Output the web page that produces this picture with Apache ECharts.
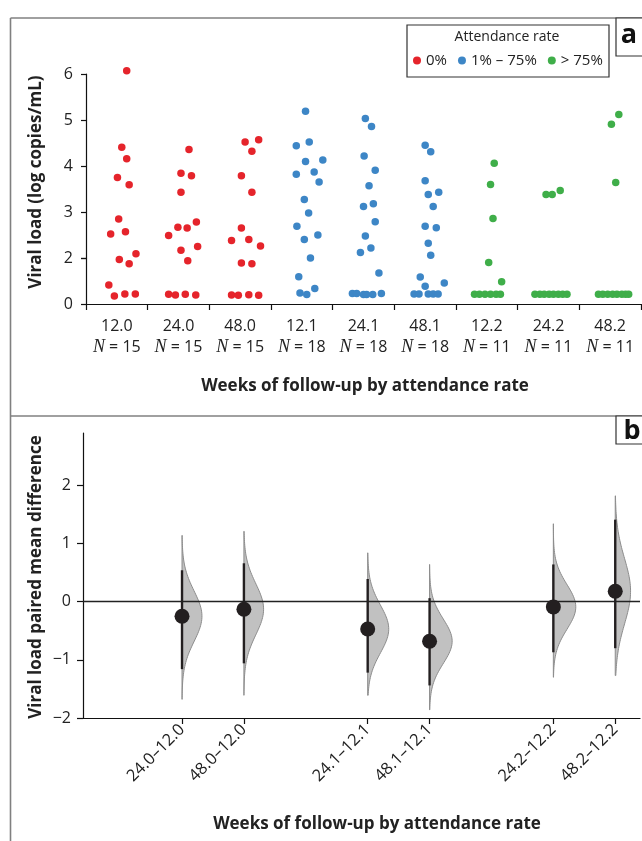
<!DOCTYPE html>
<html><head><meta charset="utf-8">
<script src="https://cdn.jsdelivr.net/npm/echarts@6/dist/echarts.min.js"></script>
<style>html,body{margin:0;padding:0;background:#fff}#c{width:642px;height:841px}</style>
</head><body><div id="c"></div>
<script>
// ---------- DATA ----------
const categories = ['12.0','24.0','48.0','12.1','24.1','48.1','12.2','24.2','48.2'];
const sampleSizes = [15,15,15,18,18,18,11,11,11];
const groupNames = ['0%','1% \u2013 75%','> 75%'];
const groupOfCategory = [0,0,0,1,1,1,2,2,2];

// viral load (log copies/mL) per category, with strip-plot jitter (category units)
const vl_12_0 = [6.07,4.41,4.16,3.75,3.59,2.85,2.52,2.57,2.09,1.93,1.75,0.83,0.35,0.43,0.43];
const jit_12_0 = [0.16,0.08,0.16,0.01,0.20,0.03,-0.10,0.14,0.31,0.04,0.20,-0.13,-0.04,0.13,0.30];
const vl_24_0 = [4.36,3.84,3.79,3.43,2.67,2.65,2.78,2.49,2.25,2.17,1.88,0.42,0.39,0.42,0.39];
const jit_24_0 = [0.17,0.04,0.21,0.04,-0.01,0.14,0.29,-0.16,0.31,0.04,0.15,-0.16,-0.05,0.11,0.28];
const vl_48_0 = [4.52,4.57,4.32,3.79,3.43,2.65,2.38,2.40,2.26,1.78,1.75,0.39,0.38,0.40,0.38];
const jit_48_0 = [0.08,0.30,0.19,0.02,0.19,0.02,-0.14,0.14,0.33,0.02,0.19,-0.14,-0.03,0.14,0.30];
const vl_12_1 = [5.19,4.44,4.52,4.10,4.13,3.82,3.87,3.65,3.27,2.98,2.69,2.50,2.40,2.00,1.19,0.67,0.48,0.41];
const jit_12_1 = [0.06,-0.09,0.12,0.06,0.34,-0.09,0.20,0.28,0.04,0.11,-0.08,0.26,0.04,0.14,-0.05,0.21,-0.03,0.08];
const vl_24_1 = [5.03,4.86,4.22,3.91,3.57,3.12,3.18,2.79,2.48,2.12,2.22,1.35,0.46,0.46,0.41,0.41,0.41,0.46];
const jit_24_1 = [0.03,0.13,0.01,0.19,0.09,0.00,0.16,0.19,0.03,-0.05,0.12,0.25,-0.18,-0.11,0.00,0.05,0.15,0.29];
const vl_48_1 = [4.45,4.31,3.68,3.38,3.43,3.12,2.69,2.66,2.32,2.06,1.17,0.91,0.77,0.43,0.43,0.43,0.43,0.43];
const jit_48_1 = [0.00,0.09,0.00,0.05,0.22,0.13,0.00,0.18,0.05,0.09,-0.08,0.31,0.00,-0.18,-0.10,0.05,0.13,0.21];
const vl_12_2 = [4.06,3.60,2.86,1.80,0.97,0.42,0.42,0.42,0.42,0.42,0.42];
const jit_12_2 = [0.12,0.06,0.10,0.03,0.24,-0.20,-0.12,-0.03,0.06,0.15,0.22];
const vl_24_2 = [3.38,3.38,3.47,0.42,0.42,0.42,0.42,0.42,0.42,0.42,0.42];
const jit_24_2 = [-0.04,0.06,0.19,-0.22,-0.14,-0.07,0.01,0.08,0.16,0.23,0.30];
const vl_48_2 = [5.12,4.91,3.64,0.42,0.42,0.42,0.42,0.42,0.42,0.42,0.42];
const jit_48_2 = [0.14,0.02,0.09,-0.19,-0.12,-0.04,0.04,0.11,0.19,0.25,0.30];

// paired mean differences (panel b)
const comparisons = ['24.0\u201312.0','48.0\u201312.0','24.1\u201312.1','48.1\u201312.1','24.2\u201312.2','48.2\u201312.2'];
const meanDiff = [-0.25,-0.13,-0.47,-0.68,-0.09,0.18];
const ciLow    = [-1.16,-1.06,-1.22,-1.44,-0.87,-0.80];
const ciHigh   = [0.54,0.66,0.39,0.06,0.64,1.41];
const bootMin  = [-1.68,-1.61,-1.61,-1.86,-1.30,-1.27];
const bootMax  = [1.14,1.21,0.84,0.64,1.34,1.82];
const yTicksBottom = [-2,-1,0,1,2];

// ---------- BUILD ----------
const catValues = [vl_12_0,vl_24_0,vl_48_0,vl_12_1,vl_24_1,vl_48_1,vl_12_2,vl_24_2,vl_48_2];
const catJitter = [jit_12_0,jit_24_0,jit_48_0,jit_12_1,jit_24_1,jit_48_1,jit_12_2,jit_24_2,jit_48_2];
const groupColors = ['#e5242b','#3d86c6','#3fae49'];
const FONT = '"Open Sans", sans-serif';
const TITLE_FONT = '"Open Sans", sans-serif';
const VIOLIN_SCALE = 0.35;

const series = [];
groupNames.forEach((gName, g) => {
  const upper = [], lower = [];
  categories.forEach((c, ci) => {
    if (groupOfCategory[ci] !== g) return;
    catValues[ci].forEach((v, k) => {
      const pt = [ci + catJitter[ci][k], v];
      (v >= 2 ? upper : lower).push(pt);
    });
  });
  const common = {type:'scatter', name:gName, symbolSize:7.5, clip:false,
    itemStyle:{color:groupColors[g], opacity:1}, emphasis:{disabled:true}};
  series.push(Object.assign({}, common, {xAxisIndex:0, yAxisIndex:0, data:upper}));
  series.push(Object.assign({}, common, {xAxisIndex:1, yAxisIndex:1, data:lower}));
});

const compPos = comparisons.map(c => categories.indexOf(c.split('\u2013')[0]));

series.push({
  type:'custom', xAxisIndex:2, yAxisIndex:2, silent:true, clip:false, z:2,
  data: comparisons.map((c,i) => [compPos[i], meanDiff[i], ciLow[i], ciHigh[i], bootMin[i], bootMax[i]]),
  renderItem: function(params, api){
    const x = api.value(0), m = api.value(1), lo = api.value(2), hi = api.value(3);
    const bmin = api.value(4), bmax = api.value(5);
    const sd = (hi - lo) / 3.92;
    const pts = [];
    const n = 80;
    for (let s = 0; s <= n; s++) {
      const y = bmin + (bmax - bmin) * s / n;
      const d = Math.exp(-0.5 * Math.pow((y - m) / sd, 2)) / (sd * Math.sqrt(2 * Math.PI));
      pts.push(api.coord([x + VIOLIN_SCALE * d, y]));
    }
    pts.push(api.coord([x, bmax]));
    pts.push(api.coord([x, bmin]));
    const t = api.coord([x, hi]), b = api.coord([x, lo]);
    return {type:'group', children:[
      {type:'polygon', shape:{points:pts}, style:{fill:'#c1c1c1', stroke:'#8c8c8c', lineWidth:1}},
      {type:'line', shape:{x1:t[0], y1:t[1], x2:b[0], y2:b[1]}, style:{stroke:'#231f20', lineWidth:2.4}}
    ]};
  }
});
series.push({
  type:'scatter', xAxisIndex:2, yAxisIndex:2, symbolSize:15, z:5, silent:true,
  itemStyle:{color:'#231f20', opacity:1},
  data: compPos.map((p,i) => [p, meanDiff[i]]),
  markLine:{silent:true, symbol:['none','none'], label:{show:false}, animation:false,
    lineStyle:{color:'#222', width:1.3, type:'solid', opacity:1}, data:[{yAxis:0}]}
});

const minusFmt = v => (v < 0 ? '\u2212' + Math.abs(v) : String(v));
const tickHalf = categories.map((c,i) => i - 0.5).concat([categories.length - 0.5]);
const axLine = {show:true, onZero:false, lineStyle:{color:'#111', width:1.2}};

const option = {
  animation:false,
  textStyle:{fontFamily:FONT},
  grid:[
    {left:86, right:1, top:74, height:184},
    {left:86, right:1, top:258, height:46},
    {left:83, right:2, top:433, height:285}
  ],
  legend:{
    data:groupNames, left:413, top:53, icon:'circle', itemWidth:8, itemHeight:8, itemGap:11,
    padding:0, selectedMode:false,
    textStyle:{fontSize:15, color:'#222', fontFamily:FONT}
  },
  xAxis:[
    {gridIndex:0, type:'value', min:-0.5, max:categories.length-0.5, show:false},
    {gridIndex:1, type:'value', min:-0.5, max:categories.length-0.5,
      axisLine:axLine,
      axisTick:{show:true, customValues:tickHalf, length:6, lineStyle:{color:'#111', width:1.2}},
      splitLine:{show:false},
      axisLabel:{customValues:categories.map((c,i)=>i), margin:12, fontSize:16, color:'#222', lineHeight:21,
        formatter: v => { const i = Math.round(v); return categories[i] + '\n{n|N}{t| = ' + sampleSizes[i] + '}'; },
        rich:{ n:{fontFamily:'"Liberation Serif", serif', fontStyle:'italic', fontSize:18, color:'#222', lineHeight:21},
               t:{fontFamily:FONT, fontSize:16, color:'#222', lineHeight:21} } }
    },
    {gridIndex:2, type:'value', min:-0.6, max:8.4,
      axisLine:axLine,
      axisTick:{show:true, customValues:compPos, length:6, lineStyle:{color:'#111', width:1.2}},
      splitLine:{show:false},
      axisLabel:{customValues:compPos, rotate:45, margin:9, fontSize:16.5, color:'#222',
        formatter: v => comparisons[compPos.indexOf(Math.round(v))] }
    }
  ],
  yAxis:[
    {gridIndex:0, type:'value', min:2, max:6, interval:1,
      axisLine:axLine,
      axisTick:{show:true, length:5, lineStyle:{color:'#111', width:1.2}},
      splitLine:{show:false},
      axisLabel:{margin:13, fontSize:16, color:'#222'}},
    {gridIndex:1, type:'value', min:0, max:2, interval:2,
      axisLine:axLine,
      axisTick:{show:true, length:5, lineStyle:{color:'#111', width:1.2}},
      splitLine:{show:false},
      axisLabel:{margin:13, fontSize:16, color:'#222', formatter: v => (v === 0 ? '0' : '')}},
    {gridIndex:2, type:'value', min:-2, max:2.9,
      axisLine:axLine,
      axisTick:{show:true, customValues:yTicksBottom, length:6, lineStyle:{color:'#111', width:1.2}},
      splitLine:{show:false},
      axisLabel:{customValues:yTicksBottom, margin:12, fontSize:16, color:'#222', formatter:minusFmt}}
  ],
  graphic:[
    // panel borders
    {type:'line', shape:{x1:10.5, y1:18, x2:10.5, y2:841}, style:{stroke:'#808080', lineWidth:1.6}, silent:true},
    {type:'line', shape:{x1:10.5, y1:18, x2:642, y2:18}, style:{stroke:'#808080', lineWidth:1.6}, silent:true},
    {type:'line', shape:{x1:10.5, y1:416, x2:642, y2:416}, style:{stroke:'#808080', lineWidth:1.6}, silent:true},
    // panel labels
    {type:'rect', shape:{x:616, y:18, width:40, height:38}, style:{fill:'#fff', stroke:'#333', lineWidth:1.2}, silent:true},
    {type:'text', x:629, y:35, style:{text:'a', font:'bold 27px ' + TITLE_FONT, fill:'#111', align:'center', verticalAlign:'middle'}, silent:true},
    {type:'rect', shape:{x:616, y:416, width:40, height:28}, style:{fill:'#fff', stroke:'#333', lineWidth:1.2}, silent:true},
    {type:'text', x:632, y:431, style:{text:'b', font:'bold 27px ' + TITLE_FONT, fill:'#111', align:'center', verticalAlign:'middle'}, silent:true},
    // legend box
    {type:'rect', shape:{x:407, y:25, width:202, height:52}, style:{fill:'none', stroke:'#333', lineWidth:1.2}, silent:true, z:-1},
    {type:'text', x:507, y:37, style:{text:'Attendance rate', font:'14px ' + FONT, fill:'#222', align:'center', verticalAlign:'middle'}, silent:true},
    // axis titles
    {type:'text', x:365, y:386, style:{text:'Weeks of follow-up by attendance rate', font:'bold 17px ' + TITLE_FONT, fill:'#222', align:'center', verticalAlign:'middle'}, silent:true},
    {type:'text', x:377, y:824, style:{text:'Weeks of follow-up by attendance rate', font:'bold 17px ' + TITLE_FONT, fill:'#222', align:'center', verticalAlign:'middle'}, silent:true},
    {type:'text', x:36, y:182, rotation:Math.PI/2, style:{text:'Viral load (log copies/mL)', font:'bold 17px ' + TITLE_FONT, fill:'#222', align:'center', verticalAlign:'middle'}, silent:true},
    {type:'text', x:36, y:577, rotation:Math.PI/2, style:{text:'Viral load paired mean difference', font:'bold 17px ' + TITLE_FONT, fill:'#222', align:'center', verticalAlign:'middle'}, silent:true}
  ],
  series: series
};

const chart = echarts.init(document.getElementById('c'), null, {renderer:'canvas'});
chart.setOption(option);
</script>
</body></html>
